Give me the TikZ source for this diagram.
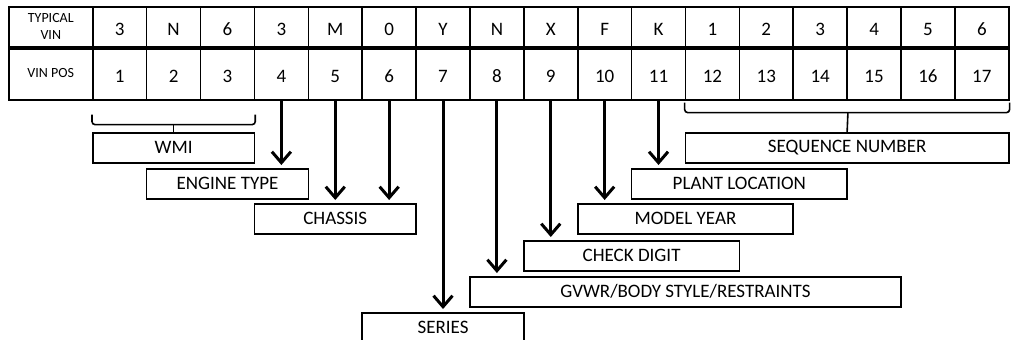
\documentclass[tikz,border=0pt]{standalone}
\usepackage{fontspec}
\setmainfont{Carlito}
\usetikzlibrary{positioning, arrows.meta}

\def\cw{53.88}

\begin{document}
\begin{tikzpicture}[
    x=1pt, y=-1pt,
    cell/.style={draw, line width=1.6pt, minimum width=\cw pt, inner sep=0pt, anchor=north west, text height=18pt, text depth=0pt, font=\fontsize{19}{19}\selectfont},
    valcell/.style={cell, minimum height=40pt},
    poscell/.style={cell, minimum height=53pt},
    hdr/.style={draw, line width=1.6pt, minimum width=84pt, inner sep=0pt, anchor=north west, align=center, font=\fontsize{14}{17}\selectfont},
    field/.style={draw, line width=1.6pt, minimum height=30pt, inner sep=0pt, anchor=north west, font=\fontsize{19}{19}\selectfont},
    arr/.style={-{Straight Barb[length=11pt, width=19pt]}, line width=3pt, shorten >=3pt},
    brace/.style={line width=1.6pt, rounded corners=3pt},
]
\clip (0,0) rectangle (1012,340);

% Table
\node[hdr, minimum height=40pt] (typ) at (8,6) {TYPICAL\\VIN};
\node[hdr, minimum height=53pt] (pos) at (8,46) {VIN POS};
\foreach \c [count=\i] in {3,N,6,3,M,0,Y,N,X,F,K,1,2,3,4,5,6} {
    \node[valcell] (v\i) at ({92+\cw*(\i-1)},6) {\c};
    \node[poscell] (p\i) at ({92+\cw*(\i-1)},46) {\i};
}
\draw[line width=4pt] (typ.south west) -- (v17.south east);

% Fields
\node[field, minimum width=3*\cw pt] (wmi) at ({92+\cw*0},132) {WMI};
\node[field, minimum width=3*\cw pt] (engine) at ({92+\cw*1},168) {ENGINE TYPE};
\node[field, minimum width=3*\cw pt] (chassis) at ({92+\cw*3},203) {CHASSIS};
\node[field, minimum width=3*\cw pt] (series) at ({92+\cw*5},312) {SERIES};
\node[field, minimum width=8*\cw pt] (gvwr) at ({92+\cw*7},276) {GVWR/BODY STYLE/RESTRAINTS};
\node[field, minimum width=4*\cw pt] (check) at ({92+\cw*8},240) {CHECK DIGIT};
\node[field, minimum width=4*\cw pt] (model) at ({92+\cw*9},203) {MODEL YEAR};
\node[field, minimum width=4*\cw pt] (plant) at ({92+\cw*10},168) {PLANT LOCATION};
\node[field, minimum width=6*\cw pt] (seq) at ({92+\cw*11},132) {SEQUENCE NUMBER};

% Brackets
\draw[brace] ([yshift=-14pt]p1.south west) -- ([yshift=-24pt]p1.south west) -- ([yshift=-24pt]p3.south east) -- ([yshift=-14pt]p3.south east);
\coordinate (wmibr) at ([yshift=-24pt]p2.south);
\draw[line width=1.6pt] (wmibr) -- (wmi.north);
\draw[brace] ([yshift=-2pt]p12.south west) -- ([yshift=-12pt]p12.south west) -- ([yshift=-12pt]p17.south east) -- ([yshift=-2pt]p17.south east);
\coordinate (seqbr) at ([yshift=-12pt]p14.south east);
\draw[line width=1.6pt] (seqbr) -- (seq.north);

% Arrows
\draw[arr] (p4.south) -- (p4.south |- engine.north);
\draw[arr] (p5.south) -- (p5.south |- chassis.north);
\draw[arr] (p6.south) -- (p6.south |- chassis.north);
\draw[arr] (p7.south) -- (p7.south |- series.north);
\draw[arr] (p8.south) -- (p8.south |- gvwr.north);
\draw[arr] (p9.south) -- (p9.south |- check.north);
\draw[arr] (p10.south) -- (p10.south |- model.north);
\draw[arr] (p11.south) -- (p11.south |- plant.north);

\end{tikzpicture}
\end{document}
